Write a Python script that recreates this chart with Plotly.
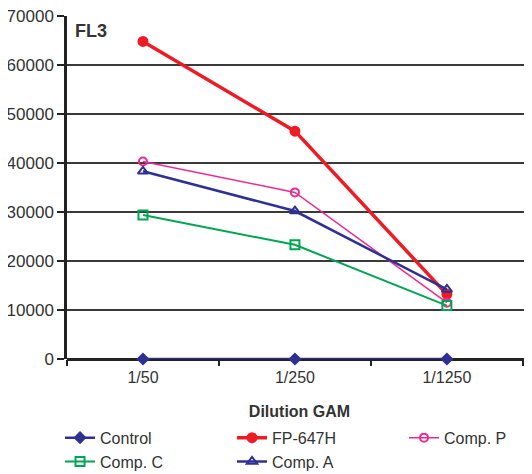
import plotly.graph_objects as go

dilutions = ["1/50", "1/250", "1/1250"]
control = [0, 0, 0]
fp_647h = [64800, 46500, 13200]
comp_p = [40300, 34000, 11500]
comp_c = [29400, 23300, 10900]
comp_a = [38300, 30200, 14200]

y_ticks = [0, 10000, 20000, 30000, 40000, 50000, 60000, 70000]

fig = go.Figure()

# name, values, colour, symbol, line width, marker size, legend rank
series = [
    ("FP-647H", fp_647h, "#ed1c24", "circle", 3.5, 9, 2),
    ("Comp. P", comp_p, "#ec2a92", "circle-open", 1.5, 8, 3),
    ("Comp. C", comp_c, "#00a651", "square-open", 2, 9, 4),
    ("Comp. A", comp_a, "#2e3192", "triangle-up-open", 2.5, 9, 5),
    ("Control", control, "#2e3192", "diamond", 2.5, 8, 1),
]

for name, vals, color, sym, lw, ms, rank in series:
    fig.add_trace(go.Scatter(
        x=dilutions, y=vals, name=name, mode="lines+markers", legendrank=rank,
        line=dict(color=color, width=lw), cliponaxis=False,
        marker=dict(symbol=sym, size=ms, color=color, line=dict(color=color, width=2)),
    ))

# page body adds an 8px margin, so the figure is 8px smaller each way
fig.update_layout(
    width=524, height=466,
    margin=dict(l=59, r=0, t=8, b=115, autoexpand=False),
    paper_bgcolor="white", plot_bgcolor="white",
    font=dict(family="Liberation Sans, Arial, sans-serif", size=16, color="#333333"),
    legend=dict(orientation="h", x=-0.015, y=-0.18, xanchor="left", yanchor="top",
                entrywidth=127, entrywidthmode="pixels", traceorder="normal",
                font=dict(size=16, color="#333333"), itemwidth=30, tracegroupgap=0),
    showlegend=True,
)

fig.update_xaxes(
    type="category", categoryorder="array", categoryarray=dilutions,
    range=[-0.5, 2.56], tickson="boundaries", ticks="outside", ticklen=6,
    tickcolor="#222222", tickwidth=2, showline=False, showgrid=False,
    ticklabelstandoff=7,
    title=dict(text="<b>Dilution GAM</b>", font=dict(size=16, color="#333333"), standoff=20),
    tickfont=dict(size=16, color="#333333"),
)
fig.update_yaxes(
    range=[0, 70000], tickvals=y_ticks, ticks="outside", ticklen=7,
    tickcolor="#222222", tickwidth=2, showline=True, linecolor="#222222", linewidth=2.5,
    showgrid=True, gridcolor="#3a3a3a", gridwidth=1.5,
    zeroline=True, zerolinecolor="#222222", zerolinewidth=2.5,
    tickformat="d", tickfont=dict(size=17, color="#333333"),
    ticklabeloverflow="allow",
)

fig.add_annotation(x=0.012, y=0.955, xref="paper", yref="paper", text="<b>FL3</b>",
                   showarrow=False, xanchor="left", yanchor="middle",
                   font=dict(size=18, color="#333333"))

fig.write_html("out.html")
